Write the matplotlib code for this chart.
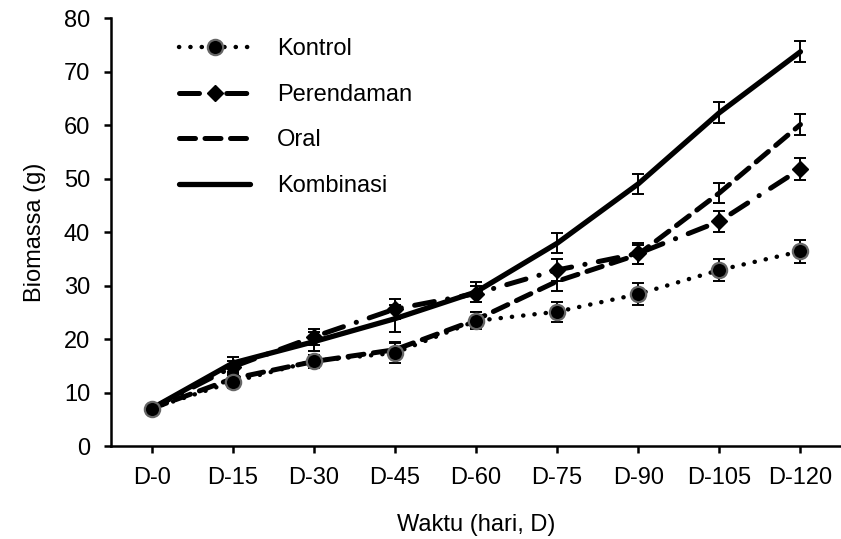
import matplotlib
matplotlib.use("Agg")
import matplotlib.pyplot as plt
import numpy as np

plt.rcParams['font.family'] = ['Liberation Sans', 'DejaVu Sans']

# data
days = ["D-0", "D-15", "D-30", "D-45", "D-60", "D-75", "D-90", "D-105", "D-120"]
kontrol = [7.0, 12.0, 15.9, 17.4, 23.4, 25.1, 28.4, 32.9, 36.4]
kontrol_err = [0.6, 1.2, 1.2, 1.8, 1.6, 1.9, 2.0, 2.0, 2.1]
perendaman = [7.0, 14.8, 20.4, 25.6, 28.5, 32.9, 36.0, 42.0, 51.8]
perendaman_err = [0.6, 1.0, 1.5, 1.8, 1.5, 2.0, 2.0, 2.0, 2.0]
oral = [7.0, 12.6, 15.8, 18.0, 23.6, 30.8, 35.8, 47.3, 60.1]
oral_err = [0.6, 1.0, 1.2, 1.5, 1.5, 1.8, 1.8, 1.9, 1.9]
kombinasi = [7.0, 15.5, 19.5, 23.8, 28.8, 37.9, 49.0, 62.3, 73.7]
kombinasi_err = [0.6, 1.1, 1.8, 2.5, 1.8, 1.9, 1.9, 2.0, 2.0]

x = np.arange(len(days))
fs = 17

fig = plt.figure(figsize=(8.41, 5.39), dpi=100)
ax = fig.add_axes([0.132, 0.1725, 0.868, 0.794])

err_kw = dict(ecolor='black', elinewidth=1.4, capsize=4.3, capthick=1.4, zorder=2)

# Kombinasi - solid
ax.errorbar(x, kombinasi, yerr=kombinasi_err, fmt='none', **err_kw)
ax.plot(x, kombinasi, color='black', linewidth=3.8, solid_capstyle='round',
        label='Kombinasi', zorder=3)

# Oral - dashed
ax.errorbar(x, oral, yerr=oral_err, fmt='none', **err_kw)
ax.plot(x, oral, color='black', linewidth=3.6, dashes=(3.2, 1.9),
        dash_capstyle='round', label='Oral', zorder=3)

# Perendaman - dash dot with diamonds
ax.errorbar(x, perendaman, yerr=perendaman_err, fmt='none', **err_kw)
ax.plot(x, perendaman, color='black', linewidth=3.6, dashes=(4.0, 2.7, 0.05, 2.7),
        dash_capstyle='round', marker='D', markersize=8, markerfacecolor='black',
        markeredgecolor='black', label='Perendaman', zorder=4)

# Kontrol - dotted with circles
ax.errorbar(x, kontrol, yerr=kontrol_err, fmt='none', **err_kw)
ax.plot(x, kontrol, color='black', linewidth=3.2, dashes=(0.05, 2.5),
        dash_capstyle='round', marker='o', markersize=11, markerfacecolor='black',
        markeredgecolor='#666666', markeredgewidth=1.6, label='Kontrol', zorder=5)

ax.set_xlim(-0.5, len(days) - 0.5)
ax.set_ylim(0, 80)
ax.set_yticks(np.arange(0, 81, 10))
ax.set_xticks(x)
ax.set_xticklabels(days)

for side in ['top', 'right']:
    ax.spines[side].set_visible(False)
for side in ['left', 'bottom']:
    ax.spines[side].set_linewidth(1.8)
ax.tick_params(axis='both', direction='out', length=5, width=1.8, labelsize=fs)
ax.tick_params(axis='y', pad=10)
ax.tick_params(axis='x', pad=10)

ax.set_ylabel('Biomassa (g)', fontsize=fs, labelpad=13)
ax.set_xlabel('Waktu (hari, D)', fontsize=fs, labelpad=18)

handles, labels = ax.get_legend_handles_labels()
order = [3, 2, 1, 0]
ax.legend([handles[i] for i in order], [labels[i] for i in order],
          loc='upper left', bbox_to_anchor=(0.213, 0.929), bbox_transform=fig.transFigure,
          frameon=False, fontsize=fs, handlelength=3.0, handletextpad=1.15,
          labelspacing=1.0, borderpad=0, borderaxespad=0)

fig.savefig('out.png', dpi=100, facecolor='white')
